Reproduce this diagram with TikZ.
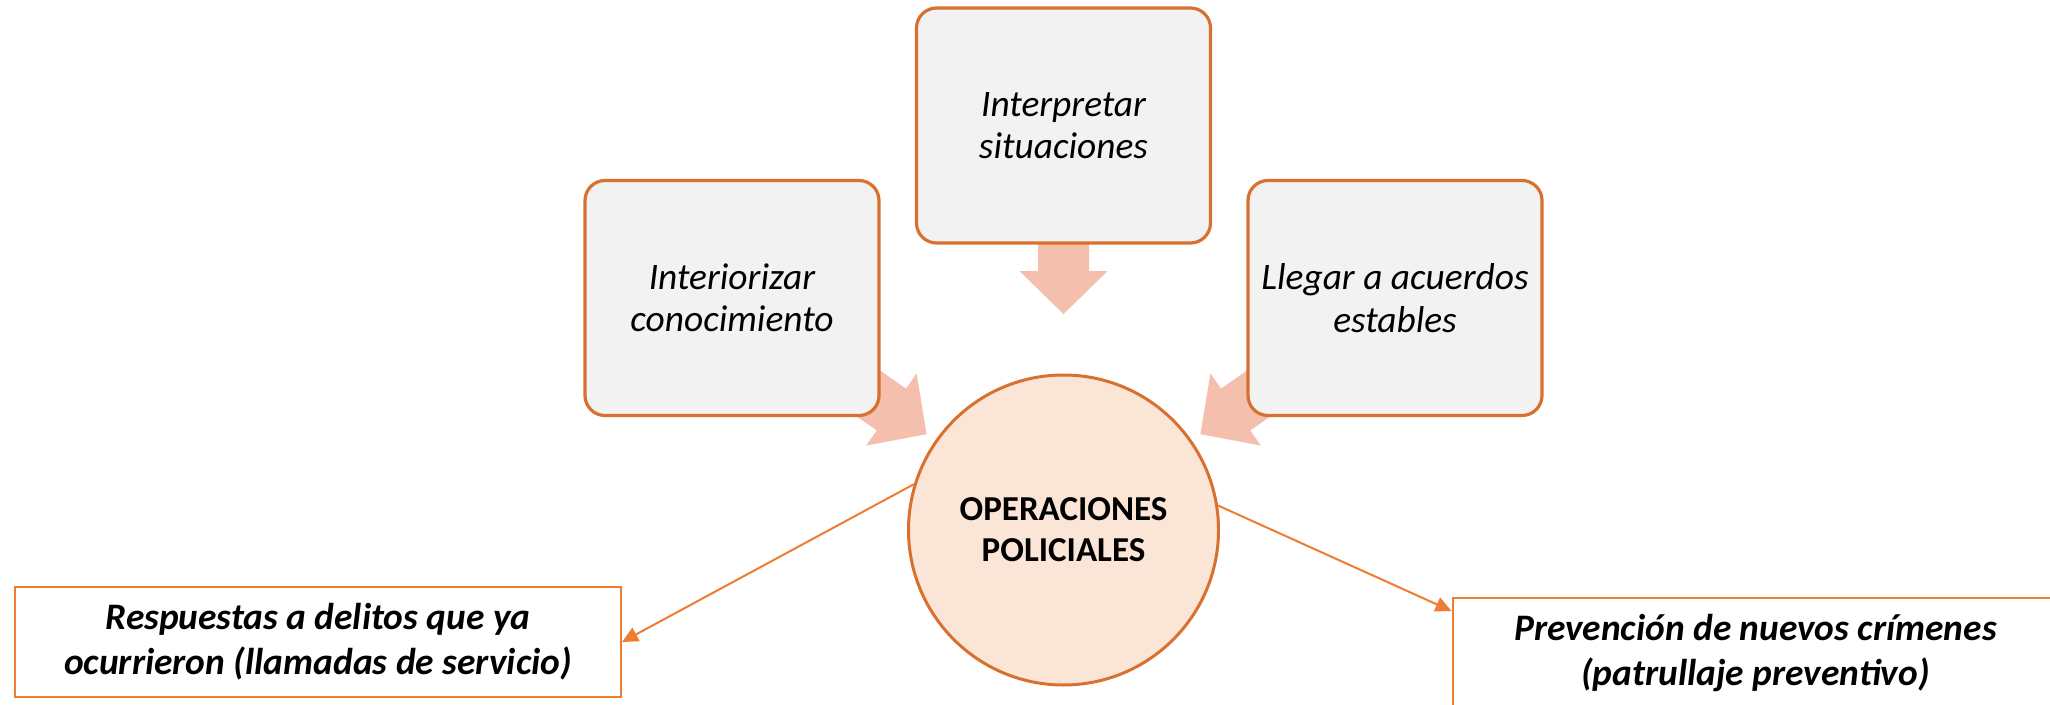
\documentclass[tikz,border=0pt]{standalone}
\usepackage{fontspec}
\setmainfont{Carlito}
\usetikzlibrary{calc,arrows.meta}
\definecolor{boxor}{HTML}{D87030}
\definecolor{lineor}{HTML}{ED7D31}
\definecolor{boxfill}{HTML}{F2F2F2}
\definecolor{circfill}{HTML}{FBE5D6}
\definecolor{fatcol}{HTML}{F4BFAD}
\pgfdeclarelayer{bg}
\pgfsetlayers{bg,main}
\tikzset{
  ideabox/.style={draw=boxor, line width=1.6pt, fill=boxfill, rounded corners=10pt,
    minimum width=147pt, minimum height=117.5pt, inner sep=0pt, align=center,
    font=\itshape\fontsize{18.7}{21.2}\selectfont},
  centre/.style={circle, draw=boxor, line width=1.5pt, fill=circfill,
    minimum size=155pt, inner sep=0pt, align=center,
    font=\bfseries\fontsize{17.5}{20.6}\selectfont},
  outbox/.style={draw=lineor, line width=1pt, fill=white, minimum width=303pt,
    minimum height=55pt, inner sep=0pt, align=center,
    font=\bfseries\itshape\fontsize{18.7}{22.5}\selectfont},
  conn/.style={draw=lineor, line width=1pt, -{Triangle[length=8pt,width=7.5pt]}},
  fatfill/.style={fill=fatcol},
}
\newcommand\fatarr[3]{%
  \coordinate (fB) at ($(#1)!21.5pt!(#2)$);
  \coordinate (fE) at ($(#1)!#3!(#2)$);
  \fill[fatfill] ($(fE)!12.75pt!90:(#1)$) -- ($(fB)!12.75pt!90:(#1)$)
    -- ($(fB)!22pt!90:(#1)$) -- (#1) -- ($(fB)!22pt!-90:(#1)$)
    -- ($(fB)!12.75pt!-90:(#1)$) -- ($(fE)!12.75pt!-90:(#1)$) -- cycle;
}
\begin{document}
\begin{tikzpicture}[x=0.5pt,y=-0.5pt]
\useasboundingbox (0,0) rectangle (2050,705);
\clip (0,0) rectangle (2050,705);
\node[ideabox] (top) at (1063.5,125.5) {Interpretar\\situaciones};
\node[ideabox] (lbox) at (732,298) {Interiorizar\\conocimiento};
\node[ideabox] (rbox) at (1395,298) {Llegar a acuerdos\\estables};
\node[centre] (circ) at (1063.5,530) {OPERACIONES\\POLICIALES};
\node[outbox] (bl) at (318,642) {Respuestas a delitos que ya\\ocurrieron (llamadas de servicio)};
\node[outbox] (br) at (1755.5,653) {Prevención de nuevos crímenes\\(patrullaje preventivo)};
\coordinate (ttip) at ($(top.south)+(0,69.5)$);
\coordinate (ltip) at ($(lbox.center)!0.587!(circ.center)$);
\coordinate (rtip) at ($(rbox.center)!0.587!(circ.center)$);
\begin{pgfonlayer}{bg}
\fatarr{ttip}{top.center}{40pt}
\fatarr{ltip}{lbox.center}{50pt}
\fatarr{rtip}{rbox.center}{50pt}
\end{pgfonlayer}
\draw[conn] (circ.163) -- (bl.east);
\draw[conn] (circ.9) -- ([yshift=-7pt]br.north west);
\end{tikzpicture}
\end{document}
